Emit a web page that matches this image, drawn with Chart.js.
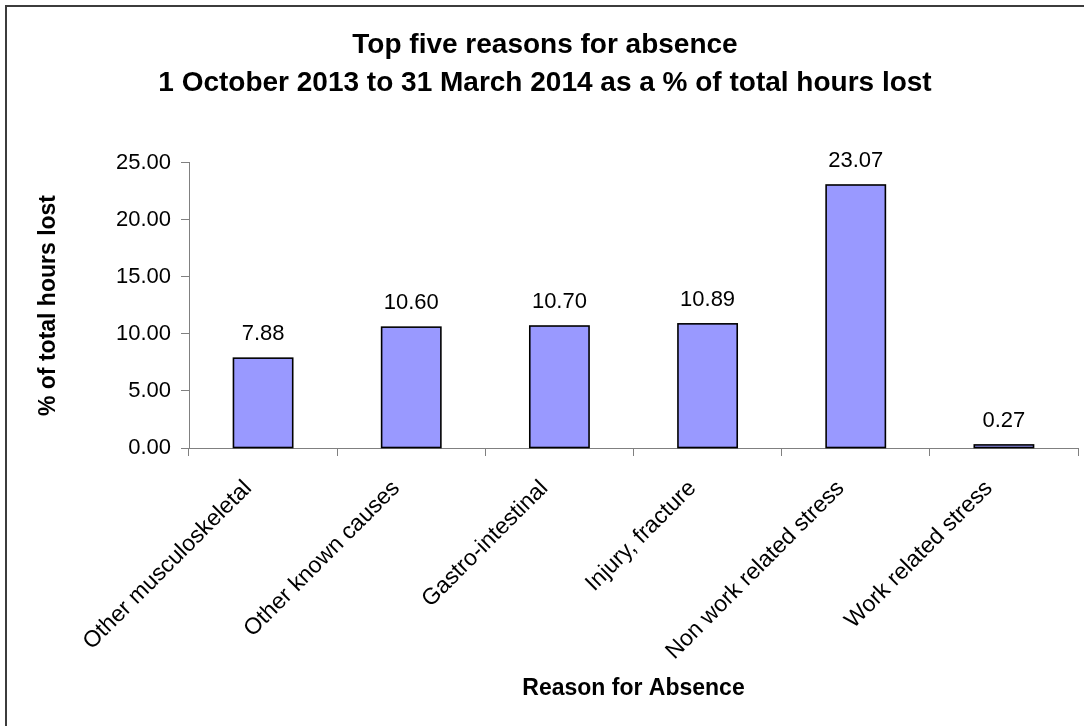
<!DOCTYPE html>
<html>
<head>
<meta charset="utf-8">
<script src="https://cdn.jsdelivr.net/npm/chart.js@4/dist/chart.umd.min.js"></script>
<style>
  html, body { margin: 0; padding: 0; background: #fff; }
  #wrap { width: 1084px; height: 726px; position: relative; }
</style>
</head>
<body>
<div id="wrap"><canvas id="c" width="1084" height="726"></canvas></div>
<script>
// Absence reasons and their share of total hours lost (%)
const categories = [
  'Other musculoskeletal',
  'Other known causes',
  'Gastro-intestinal',
  'Injury, fracture',
  'Non work related stress',
  'Work related stress'
];
const hoursLostPct = [7.88, 10.60, 10.70, 10.89, 23.07, 0.27];
const yTicks = [0, 5, 10, 15, 20, 25];

const titleLines = [
  'Top five reasons for absence',
  '1 October 2013 to 31 March 2014 as a % of total hours lost'
];
const xTitle = 'Reason for Absence';
const yTitle = '% of total hours lost';

const FONT = "'Liberation Sans', Arial, sans-serif";
const AXIS = '#808080';

// White page with a frame along the top and left edges
const framePlugin = {
  id: 'frame',
  beforeDraw(chart) {
    const ctx = chart.ctx;
    ctx.save();
    ctx.fillStyle = '#fff';
    ctx.fillRect(0, 0, chart.width, chart.height);
    ctx.strokeStyle = '#3c3c3c';
    ctx.lineWidth = 2;
    ctx.beginPath();
    ctx.moveTo(6, chart.height);
    ctx.lineTo(6, 6);
    ctx.lineTo(chart.width, 6);
    ctx.stroke();
    ctx.restore();
  }
};

// Outline centred on each bar's edges, then the value printed above it
const barDecor = {
  id: 'barDecor',
  afterDatasetsDraw(chart) {
    const ctx = chart.ctx;
    const meta = chart.getDatasetMeta(0);
    const data = chart.data.datasets[0].data;
    ctx.save();
    ctx.strokeStyle = '#000';
    ctx.lineWidth = 1.6;
    meta.data.forEach(bar => {
      const p = bar.getProps(['x', 'y', 'base', 'width'], true);
      ctx.strokeRect(p.x - p.width / 2, p.y, p.width, p.base - p.y);
    });
    ctx.font = '22px ' + FONT;
    ctx.fillStyle = '#000';
    ctx.textAlign = 'center';
    ctx.textBaseline = 'alphabetic';
    meta.data.forEach((bar, i) => {
      ctx.fillText(data[i].toFixed(2), bar.x, bar.y - 18);
    });
    ctx.restore();
  }
};

new Chart(document.getElementById('c'), {
  type: 'bar',
  data: {
    labels: categories,
    datasets: [{
      data: hoursLostPct,
      backgroundColor: '#9999ff',
      borderWidth: 0,
      barPercentage: 0.4,
      categoryPercentage: 1.0
    }]
  },
  options: {
    responsive: false,
    animation: false,
    devicePixelRatio: 1,
    layout: { padding: { left: 12, right: 6, top: 0, bottom: 0 } },
    plugins: {
      legend: { display: false },
      tooltip: { enabled: false },
      title: {
        display: true,
        text: titleLines,
        color: '#000',
        font: { family: FONT, size: 28, weight: 'bold', lineHeight: 1.357 },
        padding: { top: 26, bottom: 61 }
      }
    },
    scales: {
      x: {
        grid: {
          offset: true,
          drawOnChartArea: false,
          drawTicks: true,
          tickLength: 8,
          color: AXIS
        },
        border: { display: true, color: AXIS, width: 1 },
        ticks: {
          color: '#000',
          font: { family: FONT, size: 23 },
          minRotation: 45,
          maxRotation: 45,
          padding: 19,
          labelOffset: -15,
          autoSkip: false
        },
        title: {
          display: true,
          text: xTitle,
          color: '#000',
          font: { family: FONT, size: 23, weight: 'bold', lineHeight: 1.2 },
          padding: { top: 0, bottom: 24 }
        },
        afterFit(scale) { scale.height = 278; }
      },
      y: {
        min: 0,
        max: 25,
        afterBuildTicks(scale) { scale.ticks = yTicks.map(v => ({ value: v })); },
        grid: {
          drawOnChartArea: false,
          drawTicks: true,
          tickLength: 8,
          color: AXIS
        },
        border: { display: true, color: AXIS, width: 1 },
        ticks: {
          color: '#000',
          font: { family: FONT, size: 22 },
          padding: 10,
          callback: v => Number(v).toFixed(2)
        },
        title: {
          display: true,
          text: yTitle,
          color: '#000',
          font: { family: FONT, size: 23, weight: 'bold', lineHeight: 1.2 },
          padding: { top: 23, bottom: 0 }
        },
        afterFit(scale) { scale.width = 177; }
      }
    }
  },
  plugins: [framePlugin, barDecor]
});
</script>
</body>
</html>
